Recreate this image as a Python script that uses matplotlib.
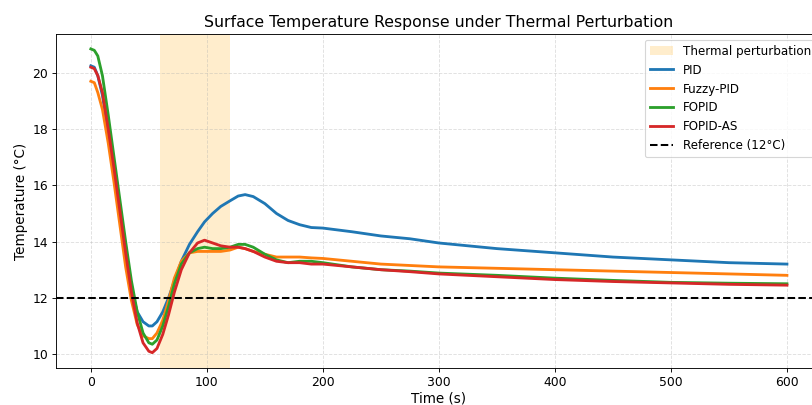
import numpy as np
import matplotlib.pyplot as plt

# sample times (s) and temperatures
t = [0, 3, 6, 10, 15, 20, 25, 30, 35, 40, 45, 50, 53, 57, 62, 67, 72, 78, 85,
     92, 98, 105, 112, 120, 127, 133, 140, 150, 160, 170, 180, 190, 200, 225,
     250, 275, 300, 350, 400, 450, 500, 550, 600]

pid = [20.25, 20.2, 19.9, 19.2, 17.9, 16.5, 15.1, 13.6, 12.3, 11.5, 11.15, 11.0, 11.0, 11.15, 11.5, 12.0, 12.6, 13.3, 13.9,
       14.35, 14.7, 15.0, 15.25, 15.45, 15.62, 15.67, 15.6, 15.35, 15.0, 14.75, 14.6, 14.5, 14.48, 14.35,
       14.2, 14.1, 13.95, 13.75, 13.6, 13.45, 13.35, 13.25, 13.2]

fuzzy = [19.7, 19.65, 19.3, 18.7, 17.5, 16.1, 14.6, 13.1, 11.9, 11.05, 10.65, 10.55, 10.55, 10.75, 11.2, 11.9, 12.7, 13.3, 13.6,
         13.65, 13.65, 13.65, 13.65, 13.7, 13.8, 13.75, 13.65, 13.55, 13.45, 13.45, 13.45, 13.42, 13.4, 13.3,
         13.2, 13.15, 13.1, 13.05, 13.0, 12.95, 12.9, 12.85, 12.8]

fopid = [20.85, 20.8, 20.6, 19.9, 18.5, 17.0, 15.5, 14.0, 12.6, 11.5, 10.75, 10.4, 10.35, 10.5, 11.0, 11.7, 12.5, 13.2, 13.6,
         13.75, 13.8, 13.75, 13.75, 13.8, 13.9, 13.9, 13.8, 13.55, 13.35, 13.25, 13.3, 13.3, 13.25, 13.1,
         13.0, 12.95, 12.88, 12.8, 12.7, 12.62, 12.55, 12.52, 12.5]

fopid_as = [20.2, 20.15, 19.9, 19.3, 18.0, 16.6, 15.1, 13.6, 12.2, 11.1, 10.4, 10.1, 10.05, 10.2, 10.7, 11.4, 12.2, 13.0, 13.6,
            13.95, 14.05, 13.95, 13.85, 13.8, 13.8, 13.75, 13.65, 13.45, 13.3, 13.25, 13.25, 13.2, 13.2, 13.1,
            13.0, 12.93, 12.85, 12.75, 12.65, 12.58, 12.53, 12.48, 12.45]

ref_temp = 12
pert_start, pert_end = 60, 120

fig = plt.figure(figsize=(10, 405 / 81.2), dpi=81.2)
ax = fig.add_axes([0.069, 0.091, 0.943, 0.825])

ax.axvspan(pert_start, pert_end, color='orange', alpha=0.2, lw=0, label='Thermal perturbation')
ax.plot(t, pid, color='tab:blue', lw=2.5, label='PID')
ax.plot(t, fuzzy, color='tab:orange', lw=2.5, label='Fuzzy-PID')
ax.plot(t, fopid, color='tab:green', lw=2.5, label='FOPID')
ax.plot(t, fopid_as, color='tab:red', lw=2.5, label='FOPID-AS')
ax.axhline(ref_temp, color='k', ls='--', lw=1.8, label='Reference (12°C)')

ax.set_xlim(-30, 630)
ax.set_ylim(9.5, 21.38)
ax.set_yticks([10, 12, 14, 16, 18, 20])
ax.tick_params(labelsize=11)
ax.set_xlabel('Time (s)', fontsize=12, labelpad=2)
ax.set_ylabel('Temperature (°C)', fontsize=12)
ax.set_title('Surface Temperature Response under Thermal Perturbation', fontsize=14)
ax.grid(True, ls='--', alpha=0.4)
ax.legend(loc='upper right', fontsize=10.5, labelspacing=0.5)

fig.savefig('out.png', dpi=81.2)
